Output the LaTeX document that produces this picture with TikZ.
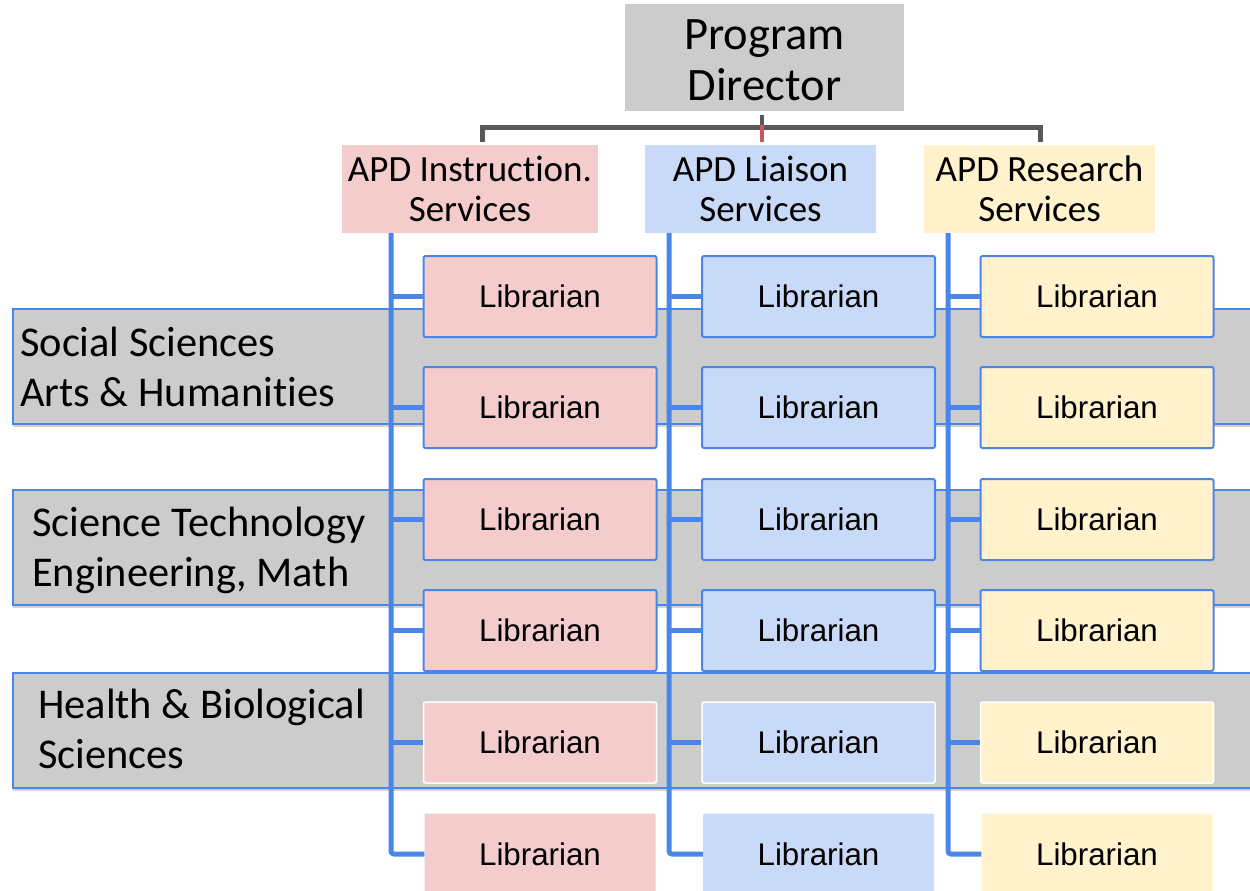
\documentclass[tikz,border=0pt]{standalone}
\usepackage{fontspec}
\setmainfont{Carlito}[Ligatures=CommonOff]
\newfontfamily\arialfont{Liberation Sans}
\usetikzlibrary{shadows}
\definecolor{pinkc}{HTML}{F4CCCC}
\definecolor{bluec}{HTML}{C9DAF8}
\definecolor{yellowc}{HTML}{FFF2CC}
\definecolor{grayc}{HTML}{CCCCCC}
\definecolor{lineblue}{HTML}{4A86E8}
\definecolor{darkline}{HTML}{595959}
\definecolor{redtick}{HTML}{C55A5A}
\begin{document}
\begin{tikzpicture}[x=1pt,y=-1pt,
  topbox/.style={fill=grayc, minimum width=279pt, minimum height=107pt, inner sep=0pt, align=center, font=\fontsize{46.5}{51}\selectfont},
  apd/.style={minimum height=88pt, inner sep=0pt, align=center, font=\fontsize{37}{39.5}\selectfont},
  band/.style={fill=grayc, draw=lineblue, line width=1.5pt, drop shadow={opacity=0.35, shadow xshift=0pt, shadow yshift=-3pt}},
  bandtext/.style={anchor=west, align=left, inner sep=0pt, font=\fontsize{42.4}{50}\selectfont},
  lib/.style={minimum width=233pt, minimum height=81pt, inner sep=0pt, rounded corners=2pt, font=\arialfont\fontsize{31.3}{36}\selectfont},
  libb/.style={lib, draw=lineblue, line width=2pt},
  libw/.style={lib, draw=white, line width=1.5pt},
  tree/.style={draw=lineblue, line width=5pt, rounded corners=3pt},
  conn/.style={draw=darkline, line width=5pt}
]
\useasboundingbox (0,0) rectangle (1250,891);

% bands
\path[band] (13,309) rectangle (1262,424);
\path[band] (13,490) rectangle (1262,605);
\path[band] (13,673) rectangle (1262,788);
\node[bandtext] (b1) at (20,366.5) {Social Sciences\\Arts \& Humanities};
\node[bandtext] (b2) at (32,550) {Science Technology\\Engineering, Math};
\node[bandtext] (b3) at (38,729) {Health \& Biological\\Sciences};

% top
\node[topbox] (pd) at (764.5,57.5) {\raisebox{-3pt}[\height][\depth]{\parbox{279pt}{\centering Program\\Director}}};
\node[apd, fill=pinkc, minimum width=256pt] (apd1) at (470,189) {APD Instruction.\\Services};
\node[apd, fill=bluec, minimum width=231pt] (apd2) at (760.5,189) {APD Liaison\\Services};
\node[apd, fill=yellowc, minimum width=231pt] (apd3) at (1039.5,189) {APD Research\\Services};

\coordinate (bus) at (762,127);
\coordinate (d1) at (482,142);
\coordinate (d3) at (1040,142);
\draw[conn] (d1) |- (bus) -| (d3);
\draw[darkline, line width=4pt] (bus |- pd.south) ++(0,4) -- (bus);
\draw[redtick, line width=4pt] ([yshift=2.5pt]bus) -- (bus |- d1);

% librarians
\foreach \c/\x/\col in {1/540/pinkc,2/818.5/bluec,3/1097/yellowc} {
  \foreach \r/\y in {1/296.5,2/407.5,3/519.5,4/630.5}
    \node[libb, fill=\col] (lib\c\r) at (\x,\y) {Librarian};
  \node[libw, fill=\col] (lib\c5) at (\x,742.5) {Librarian};
  \node[lib, fill=\col, minimum width=231pt] (lib\c6) at (\x,854) {Librarian};
}

% tree lines
\coordinate (v1) at (391,233);
\coordinate (v2) at (669,233);
\coordinate (v3) at (948,233);
\foreach \c in {1,2,3} {
  \draw[tree] (v\c) |- (lib\c6.west);
  \foreach \r in {1,...,5}
    \draw[tree] (v\c |- lib\c\r.west) -- (lib\c\r.west);
}
\end{tikzpicture}
\end{document}
